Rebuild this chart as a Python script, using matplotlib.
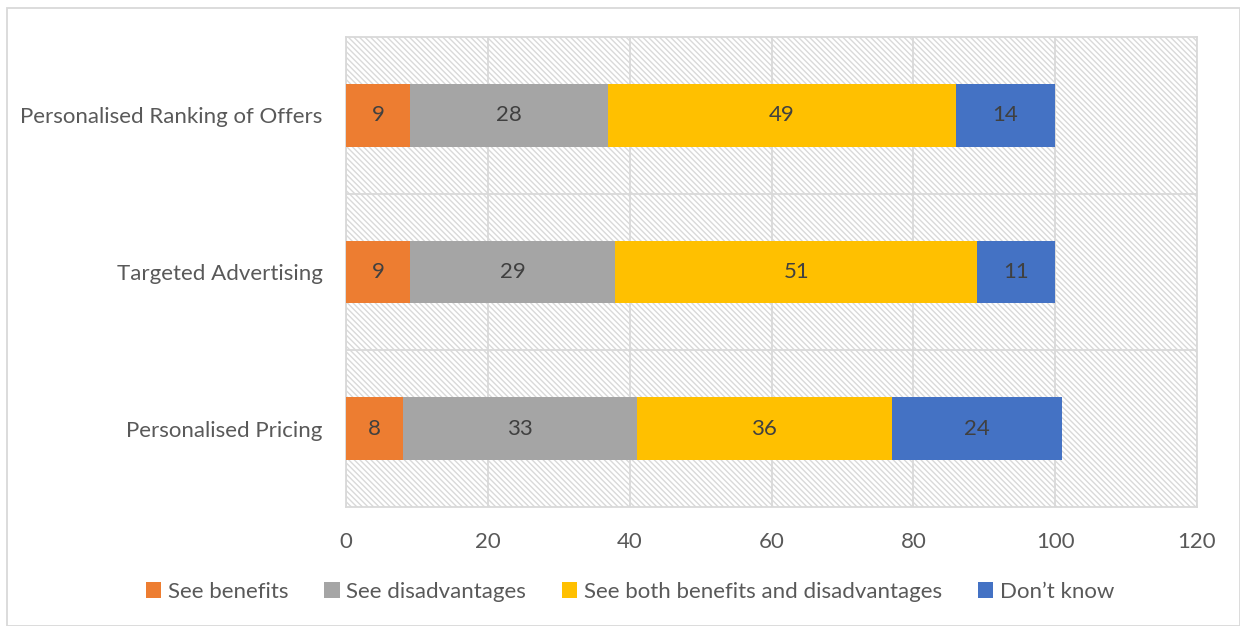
import matplotlib.pyplot as plt
import numpy as np
from matplotlib.patches import Rectangle

plt.rcParams['font.family'] = ['Lato', 'DejaVu Sans']
plt.rcParams['hatch.linewidth'] = 1.0

categorias = ['Personalised Pricing', 'Targeted Advertising', 'Personalised Ranking of Offers']
series = ['See benefits', 'See disadvantages', 'See both benefits and disadvantages', "Don\u2019t know"]
ventajas = [8, 9, 9]
desventajas = [33, 29, 28]
ambos = [36, 51, 49]
no_sabe = [24, 11, 14]
colores = ['#ed7d31', '#a5a5a5', '#ffc000', '#4472c4']

texto_gris = '#595959'
linea_gris = '#d9d9d9'

fig = plt.figure(figsize=(12.4, 6.26), dpi=100)
ax = fig.add_axes([346 / 1240, 119 / 626, 851 / 1240, 470 / 626])

# fondo con rayado
ax.add_patch(Rectangle((0, 0), 1, 1, transform=ax.transAxes, facecolor='white',
                       edgecolor='#d9d9d9', linewidth=0, hatch='\\\\\\\\\\\\', zorder=0))

y = np.arange(len(categorias))
izq = np.zeros(len(categorias))
for nombre, valores, color in zip(series, [ventajas, desventajas, ambos, no_sabe], colores):
    barras = ax.barh(y, valores, left=izq, height=0.4, color=color, label=nombre, zorder=3)
    for b, v in zip(barras, valores):
        ax.text(b.get_x() + b.get_width() / 2, b.get_y() + b.get_height() / 2, str(v),
                ha='center', va='center', fontsize=16, color='#404040', zorder=4)
    izq = izq + np.array(valores)

ax.set_xlim(0, 120)
ax.set_ylim(-0.5, 2.5)
ax.set_xticks(range(0, 121, 20))
ax.set_yticks(y)
ax.set_yticklabels(categorias)
ax.set_yticks([0.5, 1.5], minor=True)
ax.tick_params(axis='both', which='both', length=0, labelsize=16, labelcolor=texto_gris)
ax.tick_params(axis='x', pad=18)
ax.tick_params(axis='y', pad=17)
ax.grid(axis='x', color=linea_gris, linewidth=1.3, zorder=1)
ax.grid(axis='y', which='minor', color=linea_gris, linewidth=1.3, zorder=1)
ax.set_axisbelow(True)
for s in ax.spines.values():
    s.set_color(linea_gris)
    s.set_linewidth(1.3)

fig.legend(loc='center', bbox_to_anchor=(630 / 1240, 1 - 592 / 626), ncol=4, frameon=False,
           fontsize=16, labelcolor=texto_gris, handlelength=0.7, handleheight=0.7,
           handletextpad=0.3, columnspacing=1.6)

# marco del gráfico
fig.patches.append(Rectangle((7 / 1240, 0), 1 - 7 / 1240, 1 - 8 / 626, transform=fig.transFigure,
                             fill=False, edgecolor=linea_gris, linewidth=1.3))

fig.savefig('out.png', dpi=100)
